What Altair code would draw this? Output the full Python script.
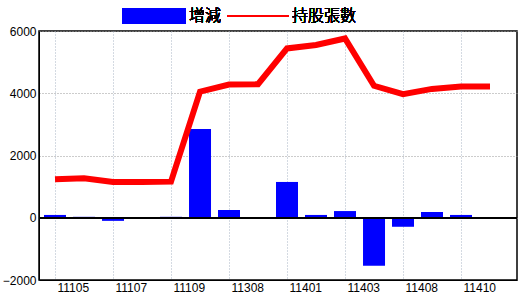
import altair as alt
import pandas as pd

months = ["11105", "11106", "11107", "11108", "11109", "11110", "11308", "11312",
          "11401", "11402", "11403", "11404", "11408", "11409", "11410", "11411"]
change = [90, 30, -100, 0, 30, 2850, 250, 0, 1150, 90, 215, -1540, -290, 185, 90, 0]
holders = [1240, 1270, 1150, 1150, 1160, 4050, 4280, 4290, 5440, 5550, 5760, 4240,
           3970, 4140, 4220, 4220]
y_ticks = [-2000, 0, 2000, 4000, 6000]

df = pd.DataFrame({"idx": list(range(len(months))), "month": months,
                   "change": change, "holders": holders})

label_arr = "[" + ",".join("'%s'" % m for m in months) + "]"
FONT = "Liberation Sans"
CJK = "Noto Sans CJK SC"

xscale = alt.Scale(domain=[-0.552, 15.93], nice=False, zero=False, padding=0)
yscale = alt.Scale(domain=[-2000, 6000], nice=False, padding=0)

xaxis = alt.Axis(values=list(range(0, 16, 2)), labelExpr=label_arr + "[datum.value]",
                 title=None, grid=True, gridColor="#a8b4c4", gridDash=[1, 2],
                 ticks=False, labelAlign="left", labelOffset=2, labelPadding=2,
                 labelFont=FONT, labelFontSize=12, labelColor="black",
                 domainColor="black")
yaxis = alt.Axis(values=y_ticks, format="d", title=None, grid=True, gridColor="#999999",
                 gridDash=[1, 2], ticks=False, labelPadding=3, labelFont=FONT,
                 labelFontSize=12, labelColor="black", domainColor="black",
                 labelOverlap=False)

base = alt.Chart(df)
bars = base.mark_bar(size=22, color="#0000ff").encode(
    x=alt.X("idx:Q", scale=xscale, axis=xaxis),
    y=alt.Y("change:Q", scale=yscale, axis=yaxis),
)
zero = base.mark_rule(color="black", strokeWidth=1.5).encode(y=alt.datum(0))
line = base.mark_line(color="#ff0000", strokeWidth=6, strokeJoin="miter").encode(
    x=alt.X("idx:Q", scale=xscale),
    y=alt.Y("holders:Q", scale=yscale),
)

leg_rect = base.mark_rect(color="#0000ff").encode(
    x=alt.value(83), x2=alt.value(147), y=alt.value(-23), y2=alt.value(-7))
leg_t1 = base.mark_text(text="增減", font=CJK, fontSize=16, fontWeight=300,
                        align="left", baseline="middle", color="black").encode(
    x=alt.value(150), y=alt.value(-15))
leg_line = base.mark_rule(color="#ff0000", strokeWidth=1.5).encode(
    x=alt.value(188), x2=alt.value(250), y=alt.value(-15))
leg_t2 = base.mark_text(text="持股張數", font=CJK, fontSize=16, fontWeight=300,
                        align="left", baseline="middle", color="black").encode(
    x=alt.value(253), y=alt.value(-15))

chart = alt.layer(bars, zero, line, leg_rect, leg_t1, leg_line, leg_t2).properties(
    width=478, height=249,
    autosize=alt.AutoSizeParams(type="none"),
    padding={"left": 39, "top": 31, "right": 3, "bottom": 20},
    background="white",
).configure_view(stroke="black", strokeWidth=1.5)

chart.save("out.html", embed_options={"renderer": "svg", "actions": False})
